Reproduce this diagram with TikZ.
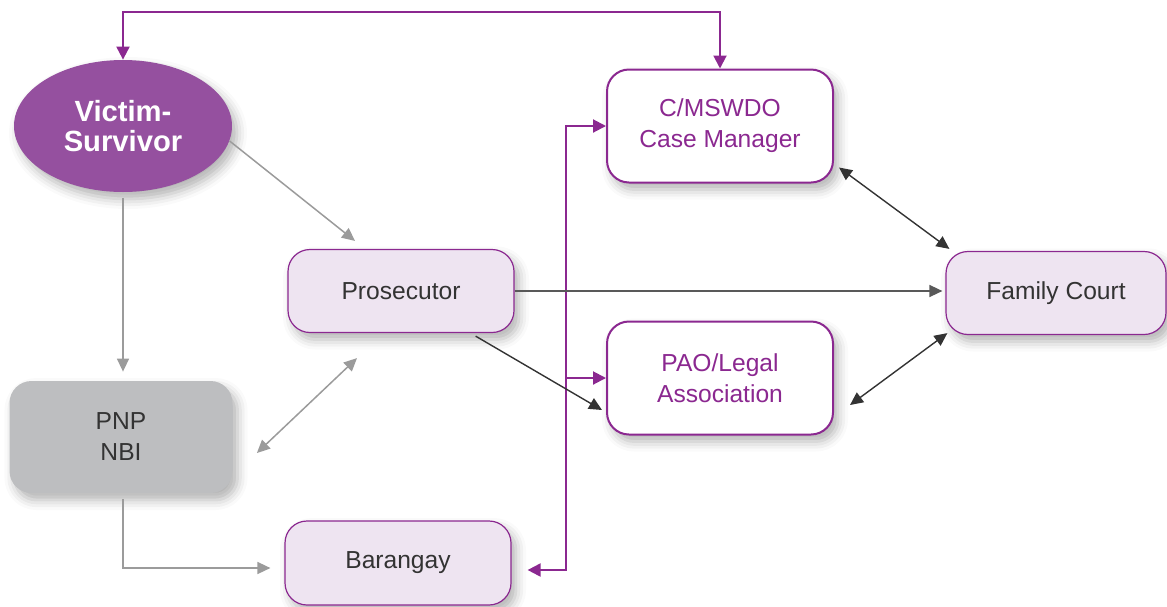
\documentclass[tikz,border=0pt]{standalone}
\usepackage{fontspec}
\setmainfont{Liberation Sans}
\usepackage{tikz}
\usetikzlibrary{arrows.meta}
\usetikzlibrary{shapes.geometric}
\usetikzlibrary{shadows.blur}
\definecolor{vpurple}{RGB}{149,80,159}
\definecolor{lpurple}{RGB}{139,40,144}
\definecolor{lilac}{RGB}{238,228,241}
\definecolor{pgray}{RGB}{189,190,192}
\definecolor{agray}{RGB}{155,155,155}
\definecolor{tgray}{RGB}{51,51,51}
\tikzset{sh/.style={blur shadow={shadow xshift=2.5pt,shadow yshift=-3.5pt,shadow blur radius=5pt,shadow opacity=30}}}
\tikzset{box/.style={rectangle,rounded corners=11pt,minimum width=113pt,align=center,sh,font=\fontsize{12.3}{15.5}\selectfont}}
\tikzset{whitebox/.style={box,draw=lpurple,line width=1pt,fill=white,text=lpurple,minimum height=56.5pt}}
\tikzset{lilacbox/.style={box,draw=lpurple,line width=0.6pt,fill=lilac,text=tgray,minimum height=41.5pt}}
\tikzset{tip/.style={-{Triangle[length=6.5pt,width=6pt]}}}
\tikzset{tips/.style={{Triangle[length=6.5pt,width=6pt]}-{Triangle[length=6.5pt,width=6pt]}}}
\tikzset{grayarr/.style={agray,line width=0.75pt}}
\tikzset{blackarr/.style={black!80,line width=0.7pt}}
\tikzset{purplearr/.style={lpurple,line width=1pt,{Triangle[length=6.5pt,width=6.5pt]}-{Triangle[length=6.5pt,width=6.5pt]}}}

\begin{document}
\begin{tikzpicture}[x=0.5pt,y=-0.5pt]
            \useasboundingbox (0,0) rectangle (1167,606);
            \node[ellipse,fill=vpurple,minimum width=109pt,minimum height=66pt,align=center,text=white,sh,
              font=\fontsize{14.6}{15.2}\selectfont\bfseries] (V) at (123,126) {Victim-\\Survivor};
            \node[whitebox] (M) at (720,126) {C/MSWDO\\Case Manager};
            \node[lilacbox] (P) at (401,291) {Prosecutor};
            \node[lilacbox,minimum width=110pt] (F) at (1056,293) {Family Court};
            \node[whitebox] (L) at (720,378) {PAO/Legal\\Association};
            \node[box,fill=pgray,text=tgray,minimum width=111.5pt,minimum height=56pt] (N) at (121,437) {PNP\\NBI};
            \node[lilacbox,minimum height=42pt] (B) at (398,563) {Barangay};
            \coordinate (T) at (566,570);
            \draw[purplearr] (M.north) -- ++(0,-57) -| (V.north);
            \draw[purplearr] (M.west) -| (T) -- ([xshift=8pt,yshift=-3.5pt]B.east);
            \draw[purplearr,-{Triangle[length=6.5pt,width=6.5pt]}] (L.west -| T) -- (L.west);
            \draw[grayarr,tip] (V.-8) -- ([xshift=-23pt,yshift=4pt]P.north);
            \draw[grayarr,tip] ([yshift=-3pt]V.south) -- ([yshift=4.5pt]V.south |- N.north);
            \draw[grayarr,tips] ([xshift=12pt,yshift=-8pt]N.east) -- ([xshift=-22pt,yshift=-12.5pt]P.south);
            \draw[grayarr,tip] ([yshift=-3pt]V.south |- N.south) |- ([xshift=-7pt,yshift=-2.5pt]B.west);
            \draw[blackarr,tip,black!65] (P.east) -- ([xshift=-1.5pt]P.east -| F.west);
            \draw[blackarr,tip] ([xshift=-19.5pt,yshift=-1.5pt]P.south east) -- ([xshift=-2pt,yshift=-16pt]L.west);
            \draw[blackarr,tips] ([xshift=2.5pt,yshift=8pt]M.south east) -- ([xshift=2pt,yshift=1pt]F.north west);
            \draw[blackarr,tips] ([xshift=8pt,yshift=-13.5pt]L.east) -- ([xshift=1pt,yshift=1pt]F.south west);
          \end{tikzpicture}
\end{document}
